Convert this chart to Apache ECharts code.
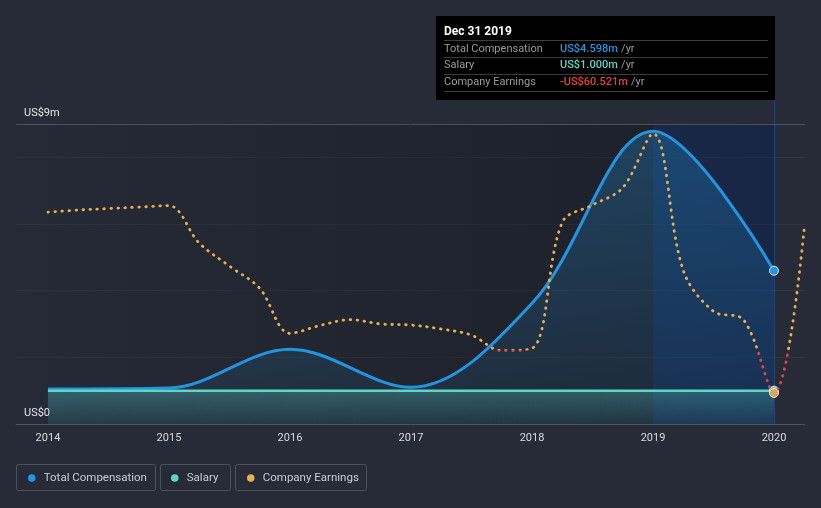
<!DOCTYPE html>
<html><head><meta charset="utf-8">
<script src="https://cdn.jsdelivr.net/npm/echarts@6/dist/echarts.min.js"></script>
<style>html,body{margin:0;padding:0;background:#262b37;}#c{width:821px;height:508px;}</style>
</head><body><div id="c"></div>
<script>
// ---- data ----
const compYears = [2014, 2015, 2016, 2017, 2018, 2019, 2020];
const compValues = [1.05, 1.08, 2.24, 1.10, 3.62, 8.78, 4.598];     // US$ m
const salaryValues = [1.0, 1.0, 1.0, 1.0, 1.0, 1.0, 1.0];          // US$ m
const earningsYears = [2014, 2014.25, 2014.5, 2014.75, 2015, 2015.25, 2015.5, 2015.75,
  2016, 2016.25, 2016.5, 2016.75, 2017, 2017.25, 2017.5, 2017.75,
  2018, 2018.25, 2018.5, 2018.75, 2019, 2019.25, 2019.5, 2019.75, 2020, 2020.25];
const earningsValues = [191, 194, 196, 198, 200, 148, 116, 85,
  22.5, 33.5, 41.5, 35.5, 34, 28.5, 20, -1.5,
  1.5, 177, 201, 225, 300, 110, 53, 41, -60.521, 169];               // US$ m
const xTickLabels = [2014, 2015, 2016, 2017, 2018, 2019, 2020];
const yTickLabels = [0, 9];
const tipDate = 'Dec 31 2019';
const tipYear = 2020;

const names = ['Total Compensation', 'Salary', 'Company Earnings'];
const colors = ['#2394df', '#5ed6c6', '#e8b04f'];
const negColor = '#e64141';
const FONT = 'Roboto, "Noto Sans", sans-serif';

const zip = (xs, ys) => xs.map((x, i) => [x, ys[i]]);
const withEndDot = (arr, xs, color) => arr.map((p, i) => xs[i] === tipYear ?
  { value: p, symbol: 'circle', symbolSize: 9, itemStyle: { color: color, borderColor: '#e8e8e8', borderWidth: 1 } } : p);

const compData = zip(compYears, compValues);
const salaryData = zip(compYears, salaryValues);
const earnData = zip(earningsYears, earningsValues);

const tipIdx = compYears.indexOf(tipYear);
const eIdx = earningsYears.indexOf(tipYear);
const fmt = v => (v < 0 ? '-' : '') + 'US$' + Math.abs(v).toFixed(3) + 'm';
const tipRows = [
  [names[0], fmt(compValues[tipIdx]), colors[0]],
  [names[1], fmt(salaryValues[tipIdx]), colors[1]],
  [names[2], fmt(earningsValues[eIdx]), earningsValues[eIdx] < 0 ? negColor : colors[2]]
];

const chart = echarts.init(document.getElementById('c'), null, { renderer: 'canvas' });

const graphics = [
  { type: 'rect', x: 436, y: 16, shape: { width: 339, height: 84 }, style: { fill: '#000' }, z: 100 },
  { type: 'text', x: 444, y: 32, style: { text: tipDate, fill: '#fff', font: 'bold 12px ' + FONT, verticalAlign: 'middle' }, z: 101 }
];
[40.5, 57.5, 74.5, 91.5].forEach(y => graphics.push({ type: 'line', shape: { x1: 444, y1: y, x2: 768, y2: y }, style: { stroke: '#3c3c3c', lineWidth: 1 }, z: 101 }));
tipRows.forEach((r, i) => {
  const y = 49 + i * 16.7;
  graphics.push({ type: 'text', x: 444, y: y, style: { text: r[0], fill: '#9a9a9a', font: '11px ' + FONT, verticalAlign: 'middle' }, z: 101 });
  graphics.push({ type: 'text', x: 560, y: y, style: { text: '{v|' + r[1] + '} {u|/yr}', verticalAlign: 'middle',
    rich: { v: { fill: r[2], font: '500 11px ' + FONT }, u: { fill: '#9a9a9a', font: '11px ' + FONT } } }, z: 101 });
});
[[16.5, 139], [160.5, 70], [235.5, 131]].forEach(b => graphics.push({ type: 'rect', x: b[0], y: 464.5,
  shape: { width: b[1], height: 26, r: 2 }, style: { fill: 'none', stroke: '#4a505d', lineWidth: 1 }, z: 1 }));

const legendLefts = [28, 171, 247];

chart.setOption({
  animation: false,
  backgroundColor: '#262b37',
  textStyle: { fontFamily: FONT },
  grid: { left: 16, right: 16, top: 100, bottom: 84, containLabel: false },
  legend: names.map((n, i) => ({
    data: [{ name: n, itemStyle: { color: colors[i] } }],
    left: legendLefts[i], top: 471, padding: 0, icon: 'circle', itemWidth: 14, itemHeight: 7.5,
    selectedMode: false,
    textStyle: { color: '#c9ccd2', fontSize: 11.5, fontFamily: FONT, lineHeight: 14 }
  })),
  xAxis: {
    type: 'value', min: 2013.736, max: 2020.256,
    axisLine: { show: true, lineStyle: { color: '#4b515d', width: 1 } },
    axisTick: { show: false },
    splitLine: { show: false },
    axisLabel: { customValues: xTickLabels, color: '#dcdcdc', fontSize: 11, margin: 9, formatter: v => String(v) }
  },
  yAxis: [{
    type: 'value', min: 0, max: 9.72, interval: 2,
    axisLine: { show: false }, axisTick: { show: false },
    splitLine: { show: true, showMaxLine: false, showMinLine: false, lineStyle: { color: '#30353f', width: 1 } },
    axisLabel: { inside: true, customValues: yTickLabels, color: '#e6e6e6', fontSize: 11, margin: 8,
      verticalAlign: 'bottom', padding: [0, 0, 5, 0], formatter: v => v === 0 ? 'US$0' : 'US$' + v + 'm' }
  }, {
    type: 'value', min: -103.6, max: 347.0, show: false, splitLine: { show: false }
  }],
  visualMap: {
    show: false, type: 'piecewise', seriesIndex: 3, dimension: 1,
    pieces: [{ min: -500, max: 0, color: negColor }, { min: 0, max: 1000, color: colors[2] }],
    outOfRange: { color: colors[2] }
  },
  series: [
    {
      name: 'bg', type: 'line', data: [], z: 0, silent: true,
      markArea: {
        silent: true, z: 0,
        data: [
          [{ xAxis: 2013.736, yAxis: 0, itemStyle: { color: { type: 'linear', x: 0, y: 0, x2: 1, y2: 0,
            colorStops: [{ offset: 0, color: 'rgba(10,12,18,0.03)' }, { offset: 1, color: 'rgba(10,12,18,0.38)' }] } } },
           { xAxis: 2020, yAxis: 9 }],
          [{ xAxis: 2019, yAxis: 0, itemStyle: { color: 'rgba(10,62,160,0.24)' } }, { xAxis: 2020, yAxis: 9 }]
        ]
      },
      markLine: {
        silent: true, z: 0, symbol: 'none', label: { show: false },
        data: [
          { yAxis: 9, lineStyle: { color: '#4b515d', width: 1, type: 'solid' } },
          { xAxis: 2020, lineStyle: { color: 'rgba(40,90,170,0.5)', width: 1, type: 'solid' } }
        ]
      }
    },
    {
      name: names[0], type: 'line', smooth: 0.35, symbol: 'none', z: 2,
      data: withEndDot(compData, compYears, colors[0]),
      lineStyle: { color: colors[0], width: 3 },
      itemStyle: { color: colors[0] },
      areaStyle: { color: { type: 'linear', x: 0, y: 0, x2: 0, y2: 1,
        colorStops: [{ offset: 0, color: 'rgba(35,148,223,0.42)' }, { offset: 1, color: 'rgba(35,148,223,0.10)' }] } }
    },
    {
      name: names[1], type: 'line', symbol: 'none', z: 3,
      data: withEndDot(salaryData, compYears, colors[1]),
      lineStyle: { color: colors[1], width: 2.5 },
      itemStyle: { color: colors[1] },
      areaStyle: { color: { type: 'linear', x: 0, y: 0, x2: 0, y2: 1,
        colorStops: [{ offset: 0, color: 'rgba(94,224,207,0.38)' }, { offset: 1, color: 'rgba(94,224,207,0.08)' }] } }
    },
    {
      name: names[2], type: 'line', yAxisIndex: 1, smooth: 0.35, symbol: 'none', z: 4,
      data: withEndDot(earnData, earningsYears, '#dca550'),
      lineStyle: { width: 2.8, type: [0.6, 6.4], cap: 'round' },
      itemStyle: { color: colors[2] }
    }
  ],
  graphic: graphics
});
</script></body></html>
